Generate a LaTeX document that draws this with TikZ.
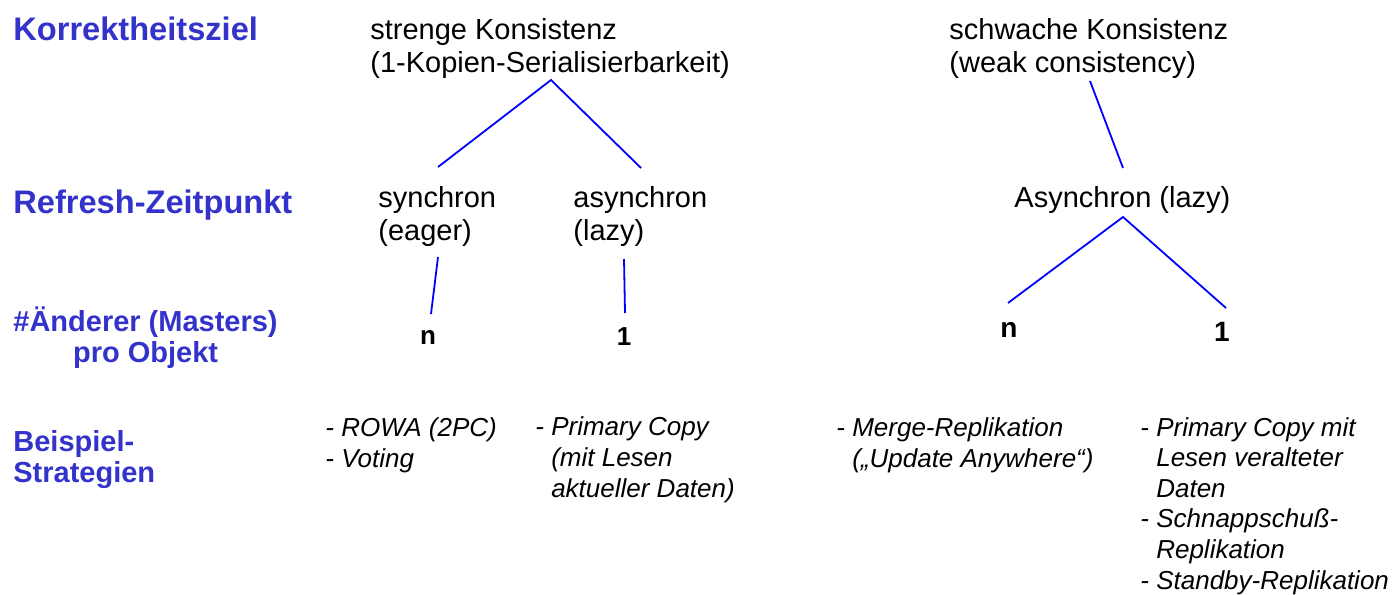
\documentclass[tikz,border=0pt]{standalone}
\usepackage{fontspec}
\setmainfont{Liberation Sans}
\usetikzlibrary{positioning}

\definecolor{titelblau}{HTML}{3333CC}
\definecolor{astblau}{HTML}{0000FF}
\newcommand{\einr}{\hphantom{-\ }}

\tikzset{
  ebene/.style={font=\fontsize{16.3}{18}\selectfont\bfseries, text=titelblau,
    inner sep=0pt, anchor=base west},
  ebenek/.style={ebene, font=\fontsize{14.5}{15.5}\selectfont\bfseries},
  ziel/.style={font=\fontsize{14.5}{16.2}\selectfont, align=left,
    inner sep=0pt, anchor=base west},
  anz/.style={font=\fontsize{13}{15}\selectfont\bfseries, inner sep=0pt},
  bsp/.style={font=\fontsize{13}{15.3}\selectfont\itshape, align=left,
    inner sep=0pt, anchor=base west},
  ast/.style={draw=astblau, line width=0.9pt},
}

\begin{document}
\begin{tikzpicture}[x=0.5pt, y=-0.5pt]
  \useasboundingbox (0,0) rectangle (1400,594);

  % Ebenen links (Anker: Grundlinie der letzten Zeile)
  \node[ebene] (korr) at (13,40) {Korrektheitsziel};
  \node[ebene] (refr) at (13,213) {Refresh-Zeitpunkt};
  \node[ebenek, align=center] (aend) at (13,362) {\#Änderer (Masters)\\pro Objekt};
  \node[ebenek, align=left] (beisp) at (13,482) {Beispiel-\\Strategien};

  % Baum
  \node[ziel] (streng) at (370,72) {strenge Konsistenz\\(1-Kopien-Serialisierbarkeit)};
  \node[ziel] (schwach) at (949,72) {schwache Konsistenz\\(weak consistency)};
  \node[ziel] (sync) at (378,240) {synchron\\(eager)};
  \node[ziel] (async) at (573,240) {asynchron\\(lazy)};
  \node[ziel] (lazy) at (1014,207) {Asynchron (lazy)};
  \node[anz] (nA) at (428,337) {n};
  \node[anz] (einsA) at (624,337) {1};
  \node[anz, font=\fontsize{14}{16}\selectfont\bfseries] (nB) at (1009,330) {n};
  \node[anz, font=\fontsize{14}{16}\selectfont\bfseries] (einsB) at (1222,332) {1};

  % Beispiele
  \node[bsp] (rowa) at (325,467) {- ROWA (2PC)\\- Voting};
  \node[bsp] (prim) at (535,497) {- Primary Copy\\\einr(mit Lesen\\\einr aktueller Daten)};
  \node[bsp] (merge) at (836,467) {- Merge-Replikation\\\einr(„Update Anywhere“)};
  \node[bsp] (primb) at (1140,589) {- Primary Copy mit\\\einr Lesen veralteter\\\einr Daten\\- Schnappschuß-\\\einr Replikation\\- Standby-Replikation};

  % Astpunkte
  \coordinate (gabelA) at (551,80);
  \coordinate (syncO) at (438,167);
  \coordinate (asyncO) at (641,168);
  \coordinate (syncU) at (438,257);
  \coordinate (nAO) at (431,314);
  \coordinate (asyncU) at (624,259);
  \coordinate (einsAO) at (625,313);
  \coordinate (schwachU) at (1090,81);
  \coordinate (lazyO) at (1123,168);
  \coordinate (gabelB) at (1123,217);
  \coordinate (nBO) at (1008,303);
  \coordinate (einsBO) at (1226,308);

  \draw[ast] (syncO) -- (gabelA) -- (asyncO);
  \draw[ast] (syncU) -- (nAO);
  \draw[ast] (asyncU) -- (einsAO);
  \draw[ast] (schwachU) -- (lazyO);
  \draw[ast] (nBO) -- (gabelB) -- (einsBO);
\end{tikzpicture}
\end{document}
